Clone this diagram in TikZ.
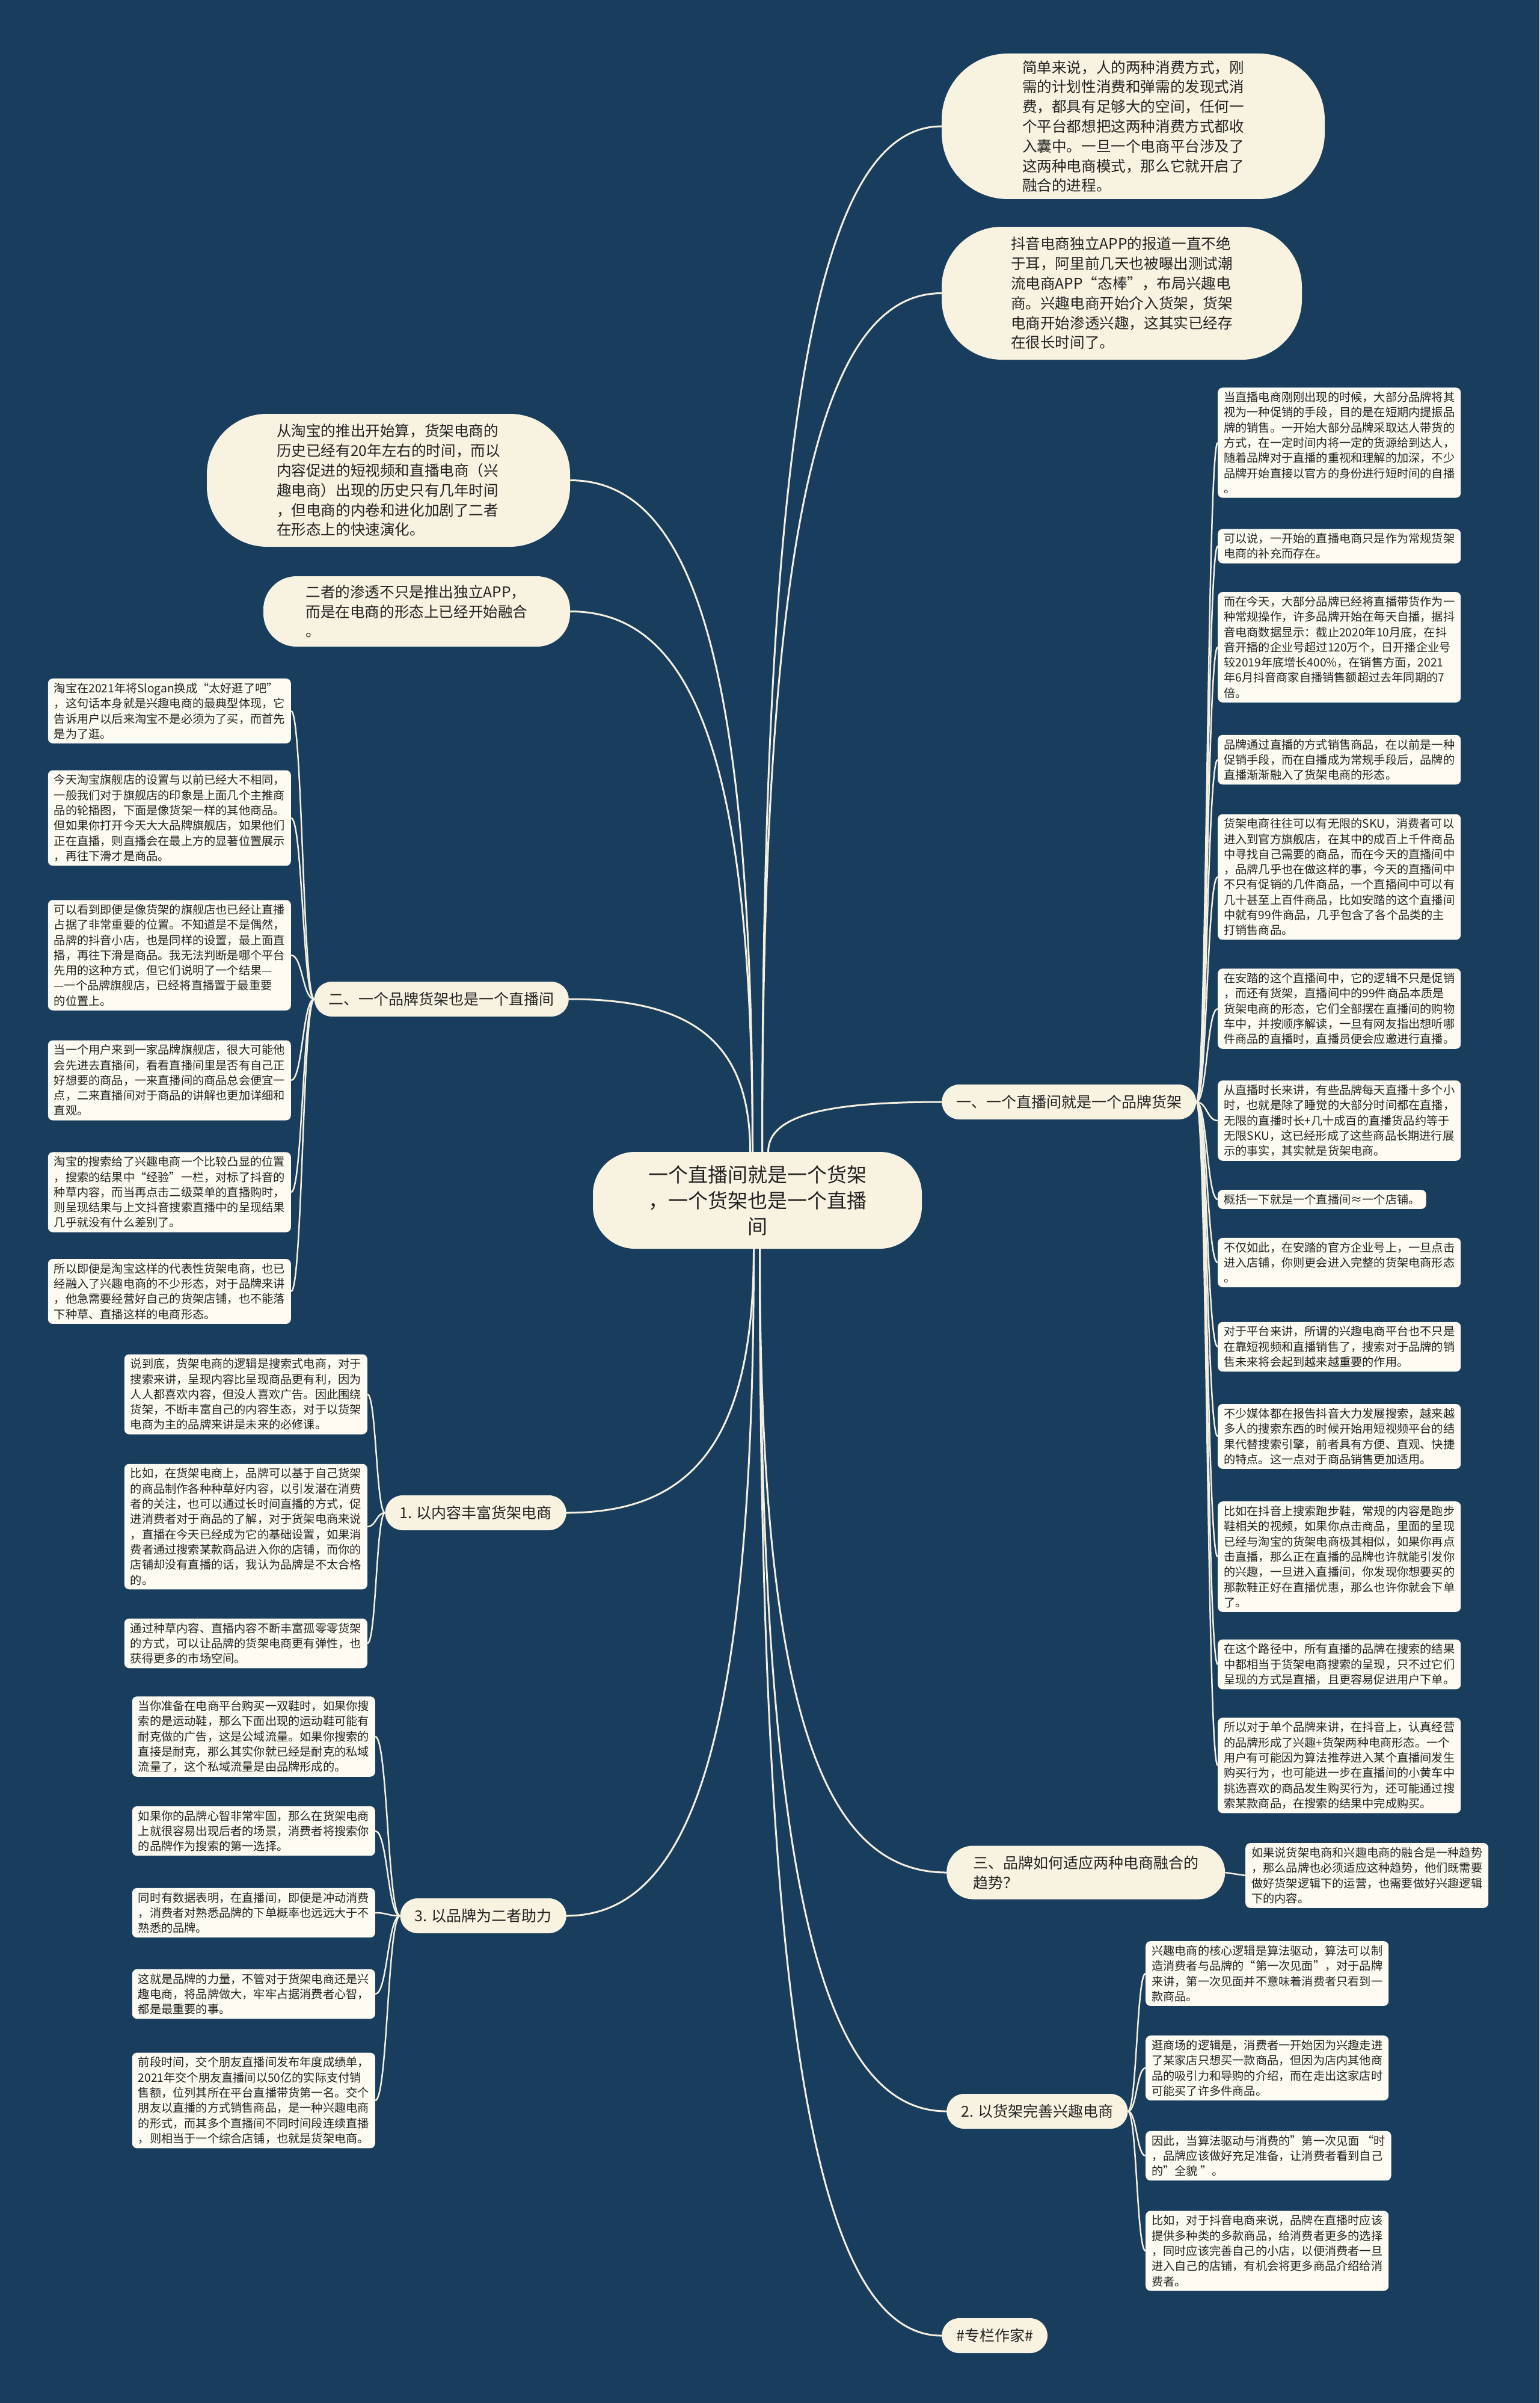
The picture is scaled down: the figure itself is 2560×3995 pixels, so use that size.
\documentclass[tikz,border=0pt]{standalone}
\usepackage{fontspec}
\setmainfont{Noto Sans CJK SC}
\usetikzlibrary{calc}
\definecolor{bgblue}{HTML}{183D5D}
\definecolor{cream}{HTML}{F8F3E1}
\definecolor{boxfill}{HTML}{FDFBF2}
\definecolor{linec}{HTML}{F4EFDF}
\definecolor{txt}{HTML}{222222}
\pgfdeclarelayer{bglayer}
\pgfdeclarelayer{linelayer}
\pgfsetlayers{bglayer,linelayer,main}
\tikzset{
  every node/.style={text=txt},
  centernode/.style={fill=cream, rounded corners=70, minimum width=547, minimum height=161, align=center, font=\fontsize{33}{43}\selectfont, inner sep=0},
  bubble/.style={fill=cream, align=left, font=\fontsize{24.6}{32.8}\selectfont, inner sep=0},
  branch/.style={fill=cream, rounded corners=29, minimum height=58, inner xsep=24, inner ysep=0, font=\fontsize{25}{33}\selectfont, align=left},
  leaf/.style={fill=boxfill, rounded corners=8, inner xsep=10, inner ysep=7, align=left, font=\fontsize{19.2}{25.3}\selectfont},
  conn/.style={draw=linec, line width=3},
  sub/.style={draw=linec, line width=2.5},
  vh/.style={to path={let \p1=(\tikztostart), \p2=(\tikztotarget) in .. controls (\x1,{\y1+0.75*(\y2-\y1)}) and ({\x1+0.35*(\x2-\x1)},\y2) .. (\tikztotarget)}},
  hh/.style={to path={let \p1=(\tikztostart), \p2=(\tikztotarget) in .. controls ({0.5*(\x1+\x2)},\y1) and ({0.5*(\x1+\x2)},\y2) .. (\tikztotarget)}},
}
\begin{document}
\begin{tikzpicture}[x=1pt,y=-1pt]
\begin{pgfonlayer}{bglayer}
\fill[bgblue] (0,0) rectangle (2560,3995);
\end{pgfonlayer}
\useasboundingbox (0,0) rectangle (2560,3995);

% center
\node[centernode] (c) at (1259.5,1995.5) {一个直播间就是一个货架\\，一个货架也是一个直播\\间};

% top right bubbles
\node[bubble, minimum width=637, minimum height=242, rounded corners=110] (tb1) at (1884.5,210) {简单来说，人的两种消费方式，刚\\需的计划性消费和弹需的发现式消\\费，都具有足够大的空间，任何一\\个平台都想把这两种消费方式都收\\入囊中。一旦一个电商平台涉及了\\这两种电商模式，那么它就开启了\\融合的进程。};
\node[bubble, minimum width=599, minimum height=221, rounded corners=100] (tb2) at (1865.5,487.5) {抖音电商独立APP的报道一直不绝\\于耳，阿里前几天也被曝出测试潮\\流电商APP“态棒”，布局兴趣电\\商。兴趣电商开始介入货架，货架\\电商开始渗透兴趣，这其实已经存\\在很长时间了。};

% left bubbles
\node[bubble, minimum width=604, minimum height=221, rounded corners=100] (lb1) at (646,798.5) {从淘宝的推出开始算，货架电商的\\历史已经有20年左右的时间，而以\\内容促进的短视频和直播电商（兴\\趣电商）出现的历史只有几年时间\\，但电商的内卷和进化加剧了二者\\在形态上的快速演化。};
\node[bubble, minimum width=510, minimum height=117, rounded corners=55] (lb2) at (693,1016.5) {二者的渗透不只是推出独立APP，\\而是在电商的形态上已经开始融合\\。};

% branches
\node[branch, anchor=west] (r1) at (1566,1832) {一、一个直播间就是一个品牌货架};
\node[branch, anchor=east] (l2) at (946,1661) {二、一个品牌货架也是一个直播间};
\node[branch, anchor=east] (l3) at (942,2515) {1. 以内容丰富货架电商};
\node[branch, anchor=east] (l4) at (942,3185) {3. 以品牌为二者助力};
\node[branch, anchor=west, minimum height=89, rounded corners=44, inner xsep=44] (r3) at (1574,3113) {三、品牌如何适应两种电商融合的\\趋势？};
\node[branch, anchor=west] (r4) at (1574,3510) {2. 以货架完善兴趣电商};
\node[branch, anchor=west] (r5) at (1566,3883) {\#专栏作家\#};

% R1 leaves
\node[leaf, anchor=west] (ra1) at (2025,736) {当直播电商刚刚出现的时候，大部分品牌将其\\视为一种促销的手段，目的是在短期内提振品\\牌的销售。一开始大部分品牌采取达人带货的\\方式，在一定时间内将一定的货源给到达人，\\随着品牌对于直播的重视和理解的加深，不少\\品牌开始直接以官方的身份进行短时间的自播\\。};
\node[leaf, anchor=west] (ra2) at (2025,908) {可以说，一开始的直播电商只是作为常规货架\\电商的补充而存在。};
\node[leaf, anchor=west] (ra3) at (2025,1076) {而在今天，大部分品牌已经将直播带货作为一\\种常规操作，许多品牌开始在每天自播，据抖\\音电商数据显示：截止2020年10月底，在抖\\音开播的企业号超过120万个，日开播企业号\\较2019年底增长400\%，在销售方面，2021\\年6月抖音商家自播销售额超过去年同期的7\\倍。};
\node[leaf, anchor=west] (ra4) at (2025,1263) {品牌通过直播的方式销售商品，在以前是一种\\促销手段，而在自播成为常规手段后，品牌的\\直播渐渐融入了货架电商的形态。};
\node[leaf, anchor=west] (ra5) at (2025,1458) {货架电商往往可以有无限的SKU，消费者可以\\进入到官方旗舰店，在其中的成百上千件商品\\中寻找自己需要的商品，而在今天的直播间中\\，品牌几乎也在做这样的事，今天的直播间中\\不只有促销的几件商品，一个直播间中可以有\\几十甚至上百件商品，比如安踏的这个直播间\\中就有99件商品，几乎包含了各个品类的主\\打销售商品。};
\node[leaf, anchor=west] (ra6) at (2025,1677) {在安踏的这个直播间中，它的逻辑不只是促销\\，而还有货架，直播间中的99件商品本质是\\货架电商的形态，它们全部摆在直播间的购物\\车中，并按顺序解读，一旦有网友指出想听哪\\件商品的直播时，直播员便会应邀进行直播。};
\node[leaf, anchor=west] (ra7) at (2025,1863) {从直播时长来讲，有些品牌每天直播十多个小\\时，也就是除了睡觉的大部分时间都在直播，\\无限的直播时长+几十成百的直播货品约等于\\无限SKU，这已经形成了这些商品长期进行展\\示的事实，其实就是货架电商。};
\node[leaf, anchor=west] (ra8) at (2025,1994) {概括一下就是一个直播间≈一个店铺。};
\node[leaf, anchor=west] (ra9) at (2025,2099) {不仅如此，在安踏的官方企业号上，一旦点击\\进入店铺，你则更会进入完整的货架电商形态\\。};
\node[leaf, anchor=west] (ra10) at (2025,2239) {对于平台来讲，所谓的兴趣电商平台也不只是\\在靠短视频和直播销售了，搜索对于品牌的销\\售未来将会起到越来越重要的作用。};
\node[leaf, anchor=west] (ra11) at (2025,2388) {不少媒体都在报告抖音大力发展搜索，越来越\\多人的搜索东西的时候开始用短视频平台的结\\果代替搜索引擎，前者具有方便、直观、快捷\\的特点。这一点对于商品销售更加适用。};
\node[leaf, anchor=west] (ra12) at (2025,2588) {比如在抖音上搜索跑步鞋，常规的内容是跑步\\鞋相关的视频，如果你点击商品，里面的呈现\\已经与淘宝的货架电商极其相似，如果你再点\\击直播，那么正在直播的品牌也许就能引发你\\的兴趣，一旦进入直播间，你发现你想要买的\\那款鞋正好在直播优惠，那么也许你就会下单\\了。};
\node[leaf, anchor=west] (ra13) at (2025,2767) {在这个路径中，所有直播的品牌在搜索的结果\\中都相当于货架电商搜索的呈现，只不过它们\\呈现的方式是直播，且更容易促进用户下单。};
\node[leaf, anchor=west] (ra14) at (2025,2935) {所以对于单个品牌来讲，在抖音上，认真经营\\的品牌形成了兴趣+货架两种电商形态。一个\\用户有可能因为算法推荐进入某个直播间发生\\购买行为，也可能进一步在直播间的小黄车中\\挑选喜欢的商品发生购买行为，还可能通过搜\\索某款商品，在搜索的结果中完成购买。};

% L2 leaves
\node[leaf, anchor=east] (la1) at (484,1182) {淘宝在2021年将Slogan换成“太好逛了吧”\\，这句话本身就是兴趣电商的最典型体现，它\\告诉用户以后来淘宝不是必须为了买，而首先\\是为了逛。};
\node[leaf, anchor=east] (la2) at (484,1360) {今天淘宝旗舰店的设置与以前已经大不相同，\\一般我们对于旗舰店的印象是上面几个主推商\\品的轮播图，下面是像货架一样的其他商品。\\但如果你打开今天大大品牌旗舰店，如果他们\\正在直播，则直播会在最上方的显著位置展示\\，再往下滑才是商品。};
\node[leaf, anchor=east] (la3) at (484,1588) {可以看到即便是像货架的旗舰店也已经让直播\\占据了非常重要的位置。不知道是不是偶然，\\品牌的抖音小店，也是同样的设置，最上面直\\播，再往下滑是商品。我无法判断是哪个平台\\先用的这种方式，但它们说明了一个结果—\\—一个品牌旗舰店，已经将直播置于最重要\\的位置上。};
\node[leaf, anchor=east] (la4) at (484,1796) {当一个用户来到一家品牌旗舰店，很大可能他\\会先进去直播间，看看直播间里是否有自己正\\好想要的商品，一来直播间的商品总会便宜一\\点，二来直播间对于商品的讲解也更加详细和\\直观。};
\node[leaf, anchor=east] (la5) at (484,1982) {淘宝的搜索给了兴趣电商一个比较凸显的位置\\，搜索的结果中“经验”一栏，对标了抖音的\\种草内容，而当再点击二级菜单的直播购时，\\则呈现结果与上文抖音搜索直播中的呈现结果\\几乎就没有什么差别了。};
\node[leaf, anchor=east] (la6) at (484,2147) {所以即便是淘宝这样的代表性货架电商，也已\\经融入了兴趣电商的不少形态，对于品牌来讲\\，他急需要经营好自己的货架店铺，也不能落\\下种草、直播这样的电商形态。};

% L3 leaves
\node[leaf, anchor=east] (lc1) at (611,2318) {说到底，货架电商的逻辑是搜索式电商，对于\\搜索来讲，呈现内容比呈现商品更有利，因为\\人人都喜欢内容，但没人喜欢广告。因此围绕\\货架，不断丰富自己的内容生态，对于以货架\\电商为主的品牌来讲是未来的必修课。};
\node[leaf, anchor=east] (lc2) at (611,2538) {比如，在货架电商上，品牌可以基于自己货架\\的商品制作各种种草好内容，以引发潜在消费\\者的关注，也可以通过长时间直播的方式，促\\进消费者对于商品的了解，对于货架电商来说\\，直播在今天已经成为它的基础设置，如果消\\费者通过搜索某款商品进入你的店铺，而你的\\店铺却没有直播的话，我认为品牌是不太合格\\的。};
\node[leaf, anchor=east] (lc3) at (611,2732) {通过种草内容、直播内容不断丰富孤零零货架\\的方式，可以让品牌的货架电商更有弹性，也\\获得更多的市场空间。};

% L4 leaves
\node[leaf, anchor=east] (ld1) at (624,2887) {当你准备在电商平台购买一双鞋时，如果你搜\\索的是运动鞋，那么下面出现的运动鞋可能有\\耐克做的广告，这是公域流量。如果你搜索的\\直接是耐克，那么其实你就已经是耐克的私域\\流量了，这个私域流量是由品牌形成的。};
\node[leaf, anchor=east] (ld2) at (624,3044) {如果你的品牌心智非常牢固，那么在货架电商\\上就很容易出现后者的场景，消费者将搜索你\\的品牌作为搜索的第一选择。};
\node[leaf, anchor=east] (ld3) at (624,3180) {同时有数据表明，在直播间，即便是冲动消费\\，消费者对熟悉品牌的下单概率也远远大于不\\熟悉的品牌。};
\node[leaf, anchor=east] (ld4) at (624,3315) {这就是品牌的力量，不管对于货架电商还是兴\\趣电商，将品牌做大，牢牢占据消费者心智，\\都是最重要的事。};
\node[leaf, anchor=east] (ld5) at (624,3492) {前段时间，交个朋友直播间发布年度成绩单，\\2021年交个朋友直播间以50亿的实际支付销\\售额，位列其所在平台直播带货第一名。交个\\朋友以直播的方式销售商品，是一种兴趣电商\\的形式，而其多个直播间不同时间段连续直播\\，则相当于一个综合店铺，也就是货架电商。};

% R3 leaf
\node[leaf, anchor=west] (rb1) at (2071,3118) {如果说货架电商和兴趣电商的融合是一种趋势\\，那么品牌也必须适应这种趋势，他们既需要\\做好货架逻辑下的运营，也需要做好兴趣逻辑\\下的内容。};

% R4 leaves
\node[leaf, anchor=west] (rc1) at (1905,3281) {兴趣电商的核心逻辑是算法驱动，算法可以制\\造消费者与品牌的“第一次见面”，对于品牌\\来讲，第一次见面并不意味着消费者只看到一\\款商品。};
\node[leaf, anchor=west] (rc2) at (1905,3438) {逛商场的逻辑是，消费者一开始因为兴趣走进\\了某家店只想买一款商品，但因为店内其他商\\品的吸引力和导购的介绍，而在走出这家店时\\可能买了许多件商品。};
\node[leaf, anchor=west] (rc3) at (1905,3584) {因此，当算法驱动与消费的”第一次见面 “时\\，品牌应该做好充足准备，让消费者看到自己\\的”全貌 ”。};
\node[leaf, anchor=west] (rc4) at (1905,3742) {比如，对于抖音电商来说，品牌在直播时应该\\提供多种类的多款商品，给消费者更多的选择\\，同时应该完善自己的小店，以便消费者一旦\\进入自己的店铺，有机会将更多商品介绍给消\\费者。};

\begin{pgfonlayer}{linelayer}
% main connectors
\draw[conn] ([xshift=8]c.north) to[vh] (tb1.west);
\draw[conn] ([xshift=8]c.north) to[vh] (tb2.west);
\draw[conn] ([xshift=18]c.north) to[vh] (r1.west);
\draw[conn] ([xshift=-8]c.north) to[vh] (lb1.east);
\draw[conn] ([xshift=-8]c.north) to[vh] (lb2.east);
\draw[conn] ([xshift=-12]c.north) to[vh] (l2.east);
\draw[conn] ([xshift=-6]c.south) to[vh] (l3.east);
\draw[conn] ([xshift=-6]c.south) to[vh] (l4.east);
\draw[conn] ([xshift=4]c.south) to[vh] (r3.west);
\draw[conn] ([xshift=4]c.south) to[vh] (r4.west);
\draw[conn] ([xshift=4]c.south) to[vh] (r5.west);
% R1 children
\foreach \k in {ra1,ra2,ra3,ra4,ra5,ra6,ra7,ra8,ra9,ra10,ra11,ra12,ra13,ra14}
  \draw[sub] (r1.east) to[hh] (\k.west);
% L2 children
\foreach \k in {la1,la2,la3,la4,la5,la6}
  \draw[sub] (l2.west) to[hh] (\k.east);
% L3 children
\foreach \k in {lc1,lc2,lc3}
  \draw[sub] (l3.west) to[hh] (\k.east);
% L4 children
\foreach \k in {ld1,ld2,ld3,ld4,ld5}
  \draw[sub] (l4.west) to[hh] (\k.east);
% R3 child
\draw[sub] (r3.east) -- (rb1.west);
% R4 children
\foreach \k in {rc1,rc2,rc3,rc4}
  \draw[sub] (r4.east) to[hh] (\k.west);
\end{pgfonlayer}
\end{tikzpicture}
\end{document}
